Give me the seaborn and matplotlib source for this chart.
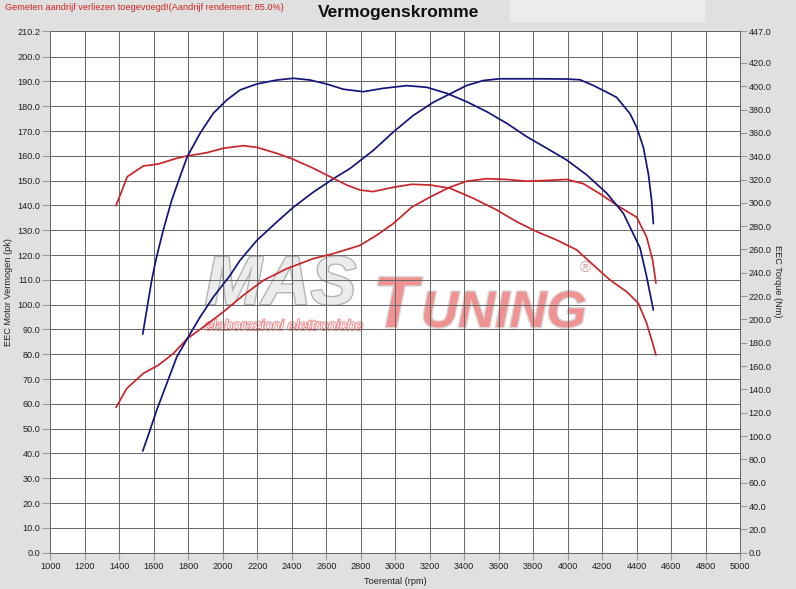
import matplotlib
matplotlib.use('Agg')
import matplotlib.pyplot as plt
import matplotlib.patheffects as pe
from matplotlib.patches import Rectangle
import pandas as pd
import seaborn as sns

sns.set_style("white")
plt.rcParams['font.family'] = ['Liberation Sans', 'DejaVu Sans']

# ---- data ----
title = "Vermogenskromme"
note = "Gemeten aandrijf verliezen toegevoegd!(Aandrijf rendement: 85.0%)"

# Red: power (pk, left axis)
red_pw_rpm = [1381, 1443, 1539, 1626, 1713, 1794, 1887, 2003, 2119, 2235, 2370, 2525, 2641, 2795,
              2892, 2988, 3095, 3201, 3317, 3414, 3530, 3646, 3762, 3878, 3994, 4090, 4187, 4303,
              4399, 4457, 4492, 4511]
red_pw_val = [58.6, 66.2, 72.3, 75.6, 80.3, 86.3, 91.0, 97.1, 103.8, 109.8, 114.5, 118.6, 120.6, 123.9,
              128.0, 132.7, 139.3, 143.4, 147.4, 149.8, 150.8, 150.5, 149.8, 150.1, 150.5, 148.8, 144.7, 139.3,
              135.3, 127.3, 117.9, 108.7]

# Red: torque (Nm, right axis)
red_tq_rpm = [1381, 1446, 1539, 1626, 1733, 1794, 1907, 2003, 2119, 2197, 2312, 2409, 2525, 2641,
              2718, 2795, 2871, 2987, 3095, 3201, 3317, 3452, 3588, 3704, 3820, 3936, 4052, 4148,
              4245, 4341, 4409, 4457, 4492, 4511]
red_tq_val = [297.5, 322.4, 331.6, 333.3, 338.2, 340.2, 343.0, 346.8, 349.0, 347.6, 342.5, 337.3, 329.6, 321.0,
              315.3, 311.0, 309.6, 313.3, 315.9, 315.3, 312.5, 303.9, 293.9, 283.8, 275.3, 268.1, 259.6, 246.7,
              233.8, 223.8, 213.9, 196.7, 179.6, 169.5]

# Blue: power (pk, left axis)
blue_pw_rpm = [1536, 1568, 1617, 1675, 1733, 1794, 1868, 1945, 2042, 2100, 2197, 2312, 2409, 2525,
               2641, 2737, 2872, 2988, 3104, 3220, 3317, 3414, 3510, 3607, 3800, 3994, 4071, 4148,
               4245, 4283, 4322, 4361, 4399, 4438, 4467, 4486, 4496]
blue_pw_val = [41.0, 47.4, 57.5, 68.2, 78.9, 86.3, 95.0, 103.1, 111.8, 117.9, 125.9, 133.3, 139.3, 145.4,
               150.8, 154.9, 162.2, 169.6, 176.3, 181.6, 185.0, 188.4, 190.4, 191.1, 191.1, 191.0, 190.7, 188.4,
               185.0, 183.6, 180.3, 177.0, 171.6, 163.5, 152.8, 142.0, 132.7]

# Blue: torque (Nm, right axis)
blue_tq_rpm = [1536, 1559, 1588, 1613, 1655, 1704, 1752, 1794, 1868, 1945, 2023, 2100, 2197, 2312,
               2409, 2506, 2602, 2699, 2814, 2930, 3066, 3182, 3298, 3414, 3530, 3646, 3762, 3878,
               3994, 4110, 4226, 4322, 4419, 4457, 4496]
blue_tq_val = [187.5, 208.1, 233.8, 251.6, 276.7, 302.4, 322.4, 339.6, 359.6, 376.8, 388.2, 396.8, 401.9, 405.3,
               406.8, 405.3, 401.9, 397.4, 395.3, 398.2, 400.5, 399.1, 393.9, 386.7, 378.2, 368.2, 356.7, 346.8,
               336.7, 323.9, 308.2, 291.0, 261.3, 236.7, 208.1]

x_ticks = list(range(1000, 5001, 200))
left_ticks = [i * 10.0 for i in range(21)] + [210.2]
right_ticks = [i * 20.0 for i in range(22)] + [447.0]

# ---- figure ----
W, H = 796, 589
bg = '#e0e0e0'
fig = plt.figure(figsize=(W / 100, H / 100), dpi=100, facecolor=bg)
x0, x1, ytop, ybot = 50.3, 740.3, 31.4, 552.7
ax = fig.add_axes([x0 / W, 1 - ybot / H, (x1 - x0) / W, (ybot - ytop) / H])
ax.set_facecolor('white')
ax2 = ax.twinx()

blue = '#14147a'
red = '#c8262a'
lw = 1.25

df_rp = pd.DataFrame({'rpm': red_pw_rpm, 'v': red_pw_val})
df_bp = pd.DataFrame({'rpm': blue_pw_rpm, 'v': blue_pw_val})
df_rt = pd.DataFrame({'rpm': red_tq_rpm, 'v': red_tq_val})
df_bt = pd.DataFrame({'rpm': blue_tq_rpm, 'v': blue_tq_val})

sns.lineplot(data=df_rp, x='rpm', y='v', ax=ax, color=red, lw=lw, legend=False, zorder=3)
sns.lineplot(data=df_bp, x='rpm', y='v', ax=ax, color=blue, lw=lw, legend=False, zorder=3)
sns.lineplot(data=df_rt, x='rpm', y='v', ax=ax2, color=red, lw=lw, legend=False, zorder=3)
sns.lineplot(data=df_bt, x='rpm', y='v', ax=ax2, color=blue, lw=lw, legend=False, zorder=3)

ax.set_xlim(1000, 5000)
ax.set_ylim(0, 210.2)
ax2.set_ylim(0, 447.0)

ax.set_xticks(x_ticks)
ax.set_xticklabels([str(t) for t in x_ticks])
ax.set_yticks(left_ticks)
ax.set_yticklabels([f"{t:.1f}" for t in left_ticks])
ax2.set_yticks(right_ticks)
ax2.set_yticklabels([f"{t:.1f}" for t in right_ticks])

gridc = '#666666'
ax.grid(True, color=gridc, lw=0.7)
ax.set_axisbelow('line')
ax2.grid(False)
for a in (ax, ax2):
    for s in a.spines.values():
        s.set_color(gridc)
        s.set_linewidth(0.7)

tcol = '#9a9a9a'
lab = '#202020'
fs = 6.6
ax.tick_params(axis='y', which='both', left=True, length=6, width=0.8, color=tcol, pad=1,
               labelsize=fs, labelcolor=lab)
ax.tick_params(axis='x', which='both', bottom=True, length=5, width=0.8, color=tcol, pad=2,
               labelsize=fs, labelcolor=lab)
ax2.tick_params(axis='y', which='both', right=True, length=5, width=0.8, color=tcol, pad=1,
                labelsize=fs, labelcolor=lab)

ax.set_xlabel('Toerental (rpm)', fontsize=fs, color=lab)
ax.xaxis.set_label_coords(0.5, (ybot - 577) / (ybot - ytop))
ax.set_ylabel('EEC Motor Vermogen (pk)', fontsize=fs, color=lab)
ax.yaxis.set_label_coords((13 - x0) / (x1 - x0), 0.5)
ax2.set_ylabel('EEC Torque (Nm)', fontsize=fs, color=lab, rotation=270, va='center')
ax2.yaxis.set_label_coords((777 - x0) / (x1 - x0), 0.52)

# ---- watermark (behind grid) ----
def px_to_data(px, py):
    return 1000 + (px - x0) / (x1 - x0) * 4000, (ybot - py) / (ybot - ytop) * 210.2

mx, my = px_to_data(205, 304)
ax.text(mx, my, 'MAS', fontsize=49, fontstyle='italic', fontweight='bold', color='#ececec',
        ha='left', va='baseline', zorder=1,
        path_effects=[pe.Stroke(linewidth=2, foreground='#b4b4b4'), pe.Normal()])
tx, ty = px_to_data(373, 327)
ax.text(tx, ty, 'T', fontsize=52, fontstyle='italic', fontweight='bold', color='#f19292',
        ha='left', va='baseline', zorder=1,
        path_effects=[pe.Stroke(linewidth=2, foreground='#d8d8d8'), pe.Normal()])
ux, uy = px_to_data(421, 327)
ax.text(ux, uy, 'UNING', fontsize=37, fontstyle='italic', fontweight='bold', color='#f19292',
        ha='left', va='baseline', zorder=1,
        path_effects=[pe.Stroke(linewidth=2, foreground='#d8d8d8'), pe.Normal()])
sx, sy = px_to_data(205, 326)
ax.text(sx, sy, 'elaborazioni elettroniche', fontsize=10.5, fontstyle='italic', color='white',
        ha='left', va='center', zorder=1,
        path_effects=[pe.Stroke(linewidth=1.4, foreground='#f08a8a'), pe.Normal()])
rx, ry = px_to_data(585, 268)
ax.text(rx, ry, '®', fontsize=11, color='#d0a0a0', ha='center', va='center', zorder=1)

# ---- header texts ----
fig.patches.append(Rectangle((510 / W, 1 - 22 / H), 195 / W, 22 / H, transform=fig.transFigure,
                             facecolor='#ececec', edgecolor='none', zorder=0))
fig.text(5 / W, 1 - 7 / H, note, fontsize=6.6, color='#cc2222', ha='left', va='center')
fig.text(399 / W, 1 - 12 / H, title, fontsize=12.5, fontweight='bold', color='#111111',
         ha='center', va='center')

fig.savefig('out.png', dpi=100, facecolor=bg)
